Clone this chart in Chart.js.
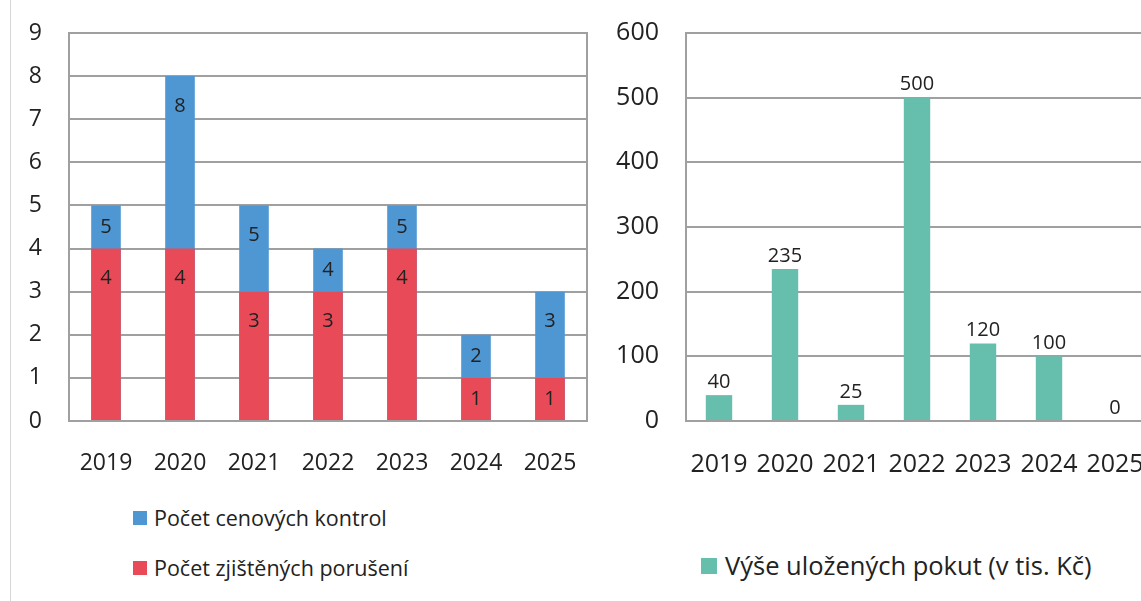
<!DOCTYPE html>
<html>
<head>
<meta charset="utf-8">
<script src="https://cdn.jsdelivr.net/npm/chart.js@4.4.1/dist/chart.umd.min.js"></script>
<style>
html,body{margin:0;padding:0;width:1141px;height:601px;overflow:hidden;background:#fff;font-family:'Open Sans',sans-serif;}
#frame{position:absolute;left:10px;top:0;width:1px;height:601px;background:#d6d6d6;}
#c1{position:absolute;left:0;top:0;}
#c2{position:absolute;left:580px;top:0;}
.leg{position:absolute;display:flex;align-items:center;color:#222;white-space:nowrap;line-height:1;}
.leg .box{display:inline-block;flex:none;}
</style>
</head>
<body>
<div id="frame"></div>
<canvas id="c1" width="600" height="480"></canvas>
<canvas id="c2" width="600" height="480"></canvas>
<div id="legends"></div>
<script>
// ---- data ----
const categories = ['2019', '2020', '2021', '2022', '2023', '2024', '2025'];
const kontrolLabel = 'Počet cenových kontrol';
const kontrolValues = [5, 8, 5, 4, 5, 2, 3];
const poruseniLabel = 'Počet zjištěných porušení';
const poruseniValues = [4, 4, 3, 3, 4, 1, 1];
const pokutyLabel = 'Výše uložených pokut (v tis. Kč)';
const pokutyValues = [40, 235, 25, 500, 120, 100, 0];
const leftAxisMax = 9, leftAxisStep = 1;
const rightAxisMax = 600, rightAxisStep = 100;

// ---- styles ----
const FONT = "'Open Sans', sans-serif";
const TEXT = '#222222';
const GRID = '#a0a0a0';
const BLUE = '#4F97D3', RED = '#E84B57', TEAL = '#66BFAD';

const barLabels = {
  id: 'barLabels',
  afterDatasetsDraw(chart, args, opts) {
    const ctx = chart.ctx;
    ctx.save();
    ctx.font = opts.size + 'px ' + FONT;
    ctx.fillStyle = TEXT;
    ctx.textAlign = 'center';
    ctx.textBaseline = 'middle';
    chart.data.datasets.forEach((ds, di) => {
      const meta = chart.getDatasetMeta(di);
      meta.data.forEach((bar, i) => {
        let y;
        if (opts.mode === 'above') {
          y = bar.y - opts.offset;
        } else {
          let bottom = bar.base;
          chart.data.datasets.forEach((o, oi) => {
            if (oi === di) return;
            const ob = chart.getDatasetMeta(oi).data[i];
            if (ob.y > bar.y && ob.y < bottom) bottom = ob.y;
          });
          y = bar.y + Math.min((bottom - bar.y) / 2, opts.offset);
        }
        ctx.fillText(String(ds.data[i]), bar.x, y);
      });
    });
    ctx.restore();
  }
};

const rightBorder = {
  id: 'rightBorder',
  afterDraw(chart) {
    const a = chart.chartArea, ctx = chart.ctx;
    ctx.save();
    ctx.strokeStyle = GRID;
    ctx.lineWidth = 2;
    ctx.beginPath();
    ctx.moveTo(Math.round(a.right), a.top - 1);
    ctx.lineTo(Math.round(a.right), a.bottom + 1);
    ctx.stroke();
    ctx.restore();
  }
};

function makeScales(max, step, tickSize, yWidth) {
  return {
    x: {
      grid: { display: false },
      border: { display: false },
      ticks: { font: { family: FONT, size: tickSize }, color: TEXT, padding: 21, maxRotation: 0, autoSkip: false },
      afterFit(s) { s.height = 59; }
    },
    y: {
      min: 0, max: max,
      grid: { color: GRID, lineWidth: 2, drawTicks: false, tickLength: 0 },
      border: { display: true, color: GRID, width: 2 },
      ticks: { stepSize: step, font: { family: FONT, size: tickSize }, color: TEXT, padding: 27 },
      afterFit(s) { s.width = yWidth; s.paddingTop = 0; s.paddingBottom = 0; }
    }
  };
}

const chart1 = new Chart(document.getElementById('c1'), {
  type: 'bar',
  data: {
    labels: categories,
    datasets: [
      { label: kontrolLabel, data: kontrolValues, backgroundColor: BLUE, grouped: false, order: 2,
        categoryPercentage: 1, barPercentage: 0.4 },
      { label: poruseniLabel, data: poruseniValues, backgroundColor: RED, grouped: false, order: 1,
        categoryPercentage: 1, barPercentage: 0.4 }
    ]
  },
  options: {
    responsive: false, animation: false,
    layout: { padding: { top: 33, right: 13, left: 0, bottom: 0 } },
    plugins: { legend: { display: false }, tooltip: { enabled: false },
      barLabels: { mode: 'inside', offset: 30, size: 20 } },
    scales: makeScales(leftAxisMax, leftAxisStep, 23, 69)
  },
  plugins: [barLabels, rightBorder]
});

const chart2 = new Chart(document.getElementById('c2'), {
  type: 'bar',
  data: {
    labels: categories,
    datasets: [
      { label: pokutyLabel, data: pokutyValues, backgroundColor: TEAL,
        categoryPercentage: 1, barPercentage: 0.4 }
    ]
  },
  options: {
    responsive: false, animation: false,
    layout: { padding: { top: 33, right: 32, left: 0, bottom: 0 } },
    plugins: { legend: { display: false }, tooltip: { enabled: false },
      barLabels: { mode: 'above', offset: 13, size: 20 } },
    scales: makeScales(rightAxisMax, rightAxisStep, 25, 106)
  },
  plugins: [barLabels, rightBorder]
});

// ---- HTML legends built from the chart datasets ----
function addLegend(ds, left, centerY, boxSize, fontSize, gap) {
  const d = document.createElement('div');
  d.className = 'leg';
  d.style.left = left + 'px';
  d.style.top = (centerY - fontSize / 2) + 'px';
  d.style.height = fontSize + 'px';
  d.style.fontSize = fontSize + 'px';
  const b = document.createElement('span');
  b.className = 'box';
  b.style.width = boxSize + 'px';
  b.style.height = boxSize + 'px';
  b.style.background = ds.backgroundColor;
  b.style.marginRight = gap + 'px';
  const t = document.createElement('span');
  t.textContent = ds.label;
  d.appendChild(b); d.appendChild(t);
  document.getElementById('legends').appendChild(d);
}
addLegend(chart1.data.datasets[0], 133, 518, 14, 21.5, 7);
addLegend(chart1.data.datasets[1], 133, 568, 14, 21.5, 7);
addLegend(chart2.data.datasets[0], 701, 566, 16, 25.5, 8);
</script>
</body>
</html>
